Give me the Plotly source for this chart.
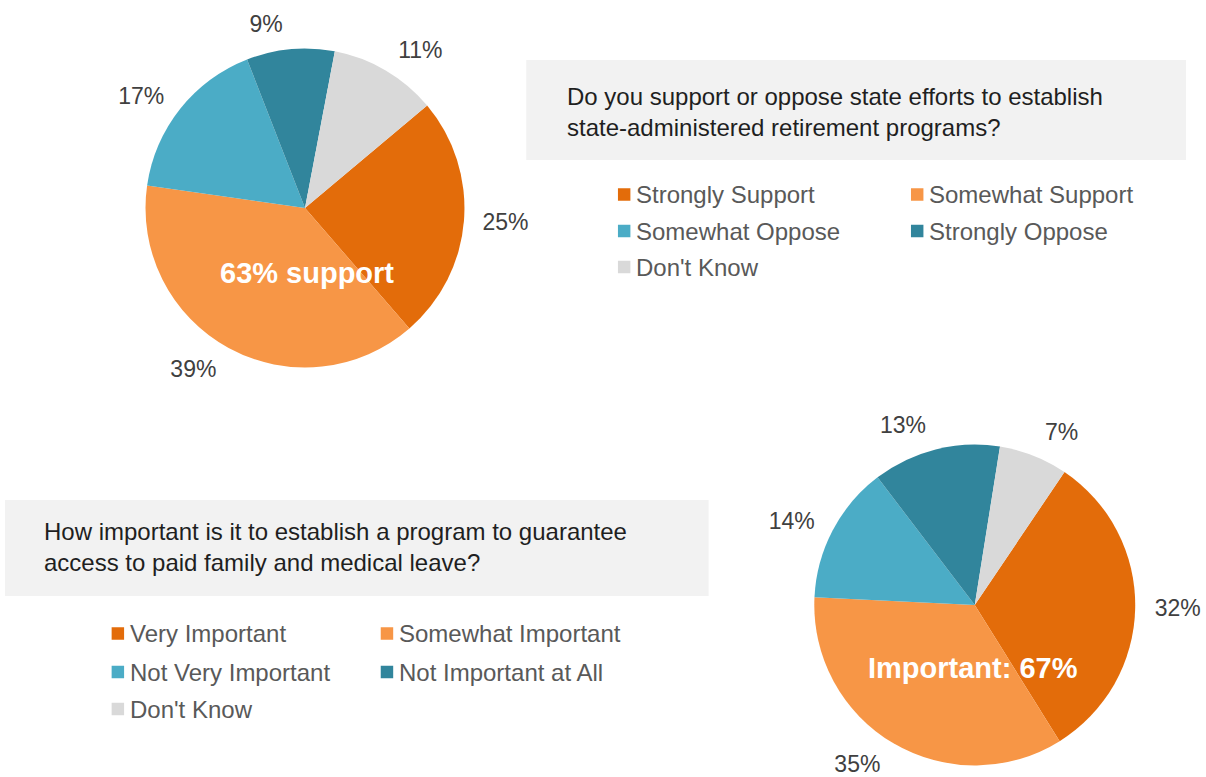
import plotly.graph_objects as go

# ---------------- data ----------------
q1_title = "Do you support or oppose state efforts to establish<br>state-administered retirement programs?"
q1_labels = ["Strongly Support", "Somewhat Support", "Somewhat Oppose", "Strongly Oppose", "Don't Know"]
q1_values = [25, 39, 17, 9, 11]
q1_note = "63% support"

q2_title = "How important is it to establish a program to guarantee<br>access to paid family and medical leave?"
q2_labels = ["Very Important", "Somewhat Important", "Not Very Important", "Not Important at All", "Don't Know"]
q2_values = [32, 35, 14, 13, 7]
q2_note = "Important: 67%"

colors = ["#E36C0A", "#F79646", "#4BACC6", "#31859C", "#D9D9D9"]

# ---------------- layout helpers ----------------
# canvas is a little taller than the 777px window (overflow hidden) so the
# lower pie's label ring can extend below the visible edge
W, H = 1206, 830
FONT = "Liberation Sans, Arial, sans-serif"


def px(x):
    return x / W


def py(y):
    return 1 - y / H


fig = go.Figure()


def add_pie(labels, values, cx, cy, r, rotation, label_gap):
    # label carrier: transparent, slightly larger pie whose outside labels sit a bit further out
    rl = r + label_gap
    fig.add_trace(go.Pie(
        labels=labels,
        values=values,
        sort=False,
        direction="clockwise",
        rotation=rotation,
        marker=dict(colors=["rgba(0,0,0,0)"] * len(values), line=dict(width=0)),
        textposition="outside",
        texttemplate="%{value}%",
        textfont=dict(family=FONT, size=23, color="#404040"),
        hoverinfo="skip",
        showlegend=False,
        domain=dict(x=[px(cx - rl), px(cx + rl)], y=[py(cy + rl), py(cy - rl)]),
    ))
    # visible pie
    fig.add_trace(go.Pie(
        labels=labels,
        values=values,
        sort=False,
        direction="clockwise",
        rotation=rotation,
        marker=dict(colors=colors, line=dict(width=0)),
        textinfo="none",
        hoverinfo="label+value",
        showlegend=False,
        domain=dict(x=[px(cx - r), px(cx + r)], y=[py(cy + r), py(cy - r)]),
    ))


add_pie(q1_labels, q1_values, 306, 208, 160, 50, 12)
add_pie(q2_labels, q2_values, 978, 605, 161, 34, 13)

shapes = []
annotations = []

# question boxes
for (x0, y0, x1, y1, title, tx, ty) in [
    (528, 60, 1190, 160, q1_title, 567, 112),
    (5, 500, 711, 596, q2_title, 42, 547),
]:
    shapes.append(dict(type="rect", xref="paper", yref="paper",
                       x0=px(x0), x1=px(x1), y0=py(y1), y1=py(y0),
                       fillcolor="#F2F2F2", line=dict(width=0), layer="below"))
    annotations.append(dict(text=title, xref="paper", yref="paper",
                            x=px(tx), y=py(ty), xanchor="left", yanchor="middle",
                            align="left", showarrow=False,
                            font=dict(family=FONT, size=24, color="#1F1F1F")))


# custom legends
def add_legend(labels, sq_x, col_dx, row_y, text_gap):
    for i, lab in enumerate(labels):
        col, row = i % 2, i // 2
        x0 = sq_x + col * col_dx
        yc = row_y[row]
        s = 12.5
        shapes.append(dict(type="rect", xref="paper", yref="paper",
                           x0=px(x0), x1=px(x0 + s), y0=py(yc + s / 2), y1=py(yc - s / 2),
                           fillcolor=colors[i], line=dict(width=0)))
        annotations.append(dict(text=lab, xref="paper", yref="paper",
                                x=px(x0 + s + text_gap), y=py(yc), xanchor="left", yanchor="middle",
                                showarrow=False,
                                font=dict(family=FONT, size=24, color="#595959")))


add_legend(q1_labels, 620, 294, [194.5, 231, 267], 4)
add_legend(q2_labels, 112, 270, [633.5, 672, 709], 4)

# centre notes
for note, (x, y) in [(q1_note, (308, 273)), (q2_note, (976, 668))]:
    annotations.append(dict(text=f"<b>{note}</b>", xref="paper", yref="paper",
                            x=px(x), y=py(y), xanchor="center", yanchor="middle",
                            showarrow=False,
                            font=dict(family=FONT, size=29, color="#FFFFFF")))

fig.update_layout(
    width=W, height=H, autosize=False,
    margin=dict(l=0, r=0, t=0, b=0),
    paper_bgcolor="#FFFFFF", plot_bgcolor="#FFFFFF",
    shapes=shapes, annotations=annotations,
    font=dict(family=FONT),
)

fig.write_html(
    "out.html",
    config={"displayModeBar": False},
    post_script="document.body.style.margin='0';document.body.style.overflow='hidden';",
)
